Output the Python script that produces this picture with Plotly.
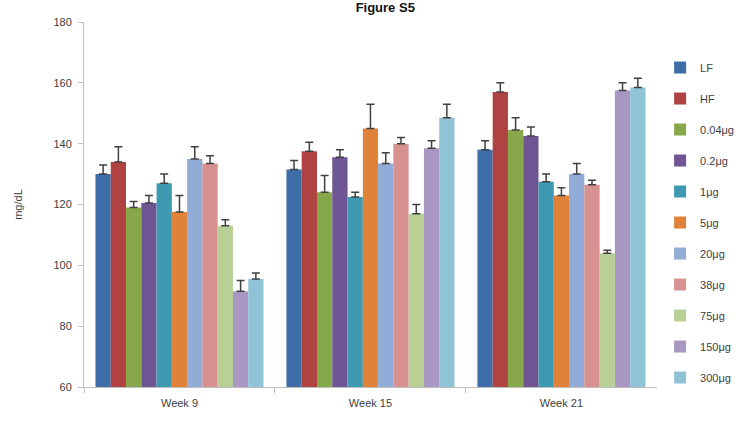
import plotly.graph_objects as go

weeks = ["Week 9", "Week 15", "Week 21"]
groups = ["LF", "HF", "0.04μg", "0.2μg", "1μg", "5μg", "20μg", "38μg", "75μg", "150μg", "300μg"]

lf = [130, 131.5, 138]
hf = [134, 137.5, 157]
d004 = [119, 124, 144.5]
d02 = [120.5, 135.5, 142.5]
d1 = [127, 122.5, 127.5]
d5 = [117.5, 145, 123]
d20 = [135, 133.5, 130]
d38 = [133.5, 140, 126.5]
d75 = [113, 117, 104]
d150 = [91.5, 138.5, 157.5]
d300 = [95.5, 148.5, 158.5]

lf_err = [3, 3, 3]
hf_err = [5, 3, 3]
d004_err = [2, 5.5, 4]
d02_err = [2.5, 2.5, 3]
d1_err = [3, 1.5, 2.5]
d5_err = [5.5, 8, 2.5]
d20_err = [4, 3.5, 3.5]
d38_err = [2.5, 2, 1.5]
d75_err = [2, 3, 1]
d150_err = [3.5, 2.5, 2.5]
d300_err = [2, 4.5, 3]

values = [lf, hf, d004, d02, d1, d5, d20, d38, d75, d150, d300]
errors = [lf_err, hf_err, d004_err, d02_err, d1_err, d5_err, d20_err, d38_err, d75_err, d150_err, d300_err]
colors = ["#3d6ea8", "#b04341", "#86a84a", "#6f5594", "#3e9ab3", "#e0823a",
          "#91acd6", "#d69190", "#b8cf95", "#a898c3", "#8fc4d6"]

fig = go.Figure()
for name, vals, errs, col in zip(groups, values, errors, colors):
    fig.add_trace(go.Bar(
        name=name, x=weeks, y=vals, marker_color=col, marker_line_width=0,
        legendgroup=name,
        error_y=dict(type="data", symmetric=False, array=errs, arrayminus=[0]*len(errs),
                     color="#404040", thickness=1.5, width=4),
    ))

fig.update_layout(
    width=751, height=421,
    barmode="group", bargap=0.12, bargroupgap=0,
    plot_bgcolor="white", paper_bgcolor="white",
    margin=dict(l=84, r=20, t=22, b=32),
    font=dict(family="Liberation Sans, Arial", size=11, color="#404040"),
    title=dict(text="<b>Figure S5</b>", x=0.513, xanchor="center", y=0.982, yanchor="middle",
               font=dict(size=13, color="#111111")),
    legend=dict(x=0.903, y=0.915, xanchor="left", yanchor="top", tracegroupgap=12,
                font=dict(size=11, color="#404040"), itemwidth=30,
                bgcolor="rgba(0,0,0,0)"),
    showlegend=True,
)
fig.update_yaxes(range=[60, 180], dtick=20, showgrid=False, showline=True, linecolor="#bfbfbf",
                 ticks="outside", ticklen=5, tickcolor="#bfbfbf", ticklabelstandoff=4,
                 title=dict(text="mg/dL", font=dict(size=11), standoff=28))
fig.update_xaxes(domain=[0, 581 / 647], showgrid=False, showline=True, linecolor="#bfbfbf",
                 ticks="outside", tickson="boundaries", ticklen=5, tickcolor="#bfbfbf",
                 ticklabelstandoff=6)

fig.write_html("out.html", config={"displayModeBar": False},
               post_script="document.body.style.margin='0px';")
